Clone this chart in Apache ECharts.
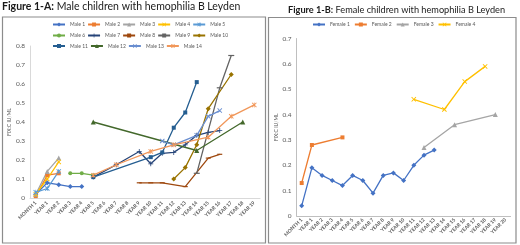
<!DOCTYPE html>
<html>
<head>
<meta charset="utf-8">
<script src="https://cdn.jsdelivr.net/npm/echarts@6/dist/echarts.min.js"></script>
<style>
  html, body { margin: 0; padding: 0; background: #fff; }
  #chart { width: 520px; height: 245px; }
</style>
</head>
<body>
<div id="chart"></div>
<script>
// categories
const maleCats = ['MONTH 1', 'YEAR 1', 'YEAR 2', 'YEAR 3', 'YEAR 4', 'YEAR 5', 'YEAR 6', 'YEAR 7', 'YEAR 8', 'YEAR 9',
  'YEAR 10', 'YEAR 11', 'YEAR 12', 'YEAR 13', 'YEAR 14', 'YEAR 15', 'YEAR 16', 'YEAR 17', 'YEAR 18', 'YEAR 19'];
const femaleCats = ['MONTH 1', 'YEAR 1', 'YEAR 2', 'YEAR 3', 'YEAR 4', 'YEAR 5', 'YEAR 6', 'YEAR 7', 'YEAR 8', 'YEAR 9',
  'YEAR 10', 'YEAR 11', 'YEAR 12', 'YEAR 13', 'YEAR 14', 'YEAR 15', 'YEAR 16', 'YEAR 17', 'YEAR 18', 'YEAR 19', 'YEAR 20'];

// FIX:C values (IU/mL), null = no measurement
const male1 = [0.02, 0.08, 0.07, 0.06, 0.06];
const male2 = [0.01, 0.12, 0.13];
const male3 = [0.02, 0.14, 0.21];
const male4 = [0.02, 0.10, 0.19];
const male5 = [0.03, 0.05, 0.14];
const male6 = [null, null, null, 0.13, 0.13, 0.12];
const male7 = [null, null, null, null, null, 0.11, null, 0.175, null, 0.245, 0.18, 0.235, 0.24, 0.28, 0.33, 0.345, 0.355];
const male8 = [null, null, null, null, null, null, null, null, null, 0.08, 0.08, 0.08, null, 0.06, null, 0.21, 0.23];
const male9 = [null, null, null, null, null, null, null, null, null, null, null, null, null, null, 0.13, null, 0.58, 0.75];
const male10 = [null, null, null, null, null, null, null, null, null, null, null, null, 0.10, 0.16, 0.28, 0.47, null, 0.65];
const male11 = [null, null, null, null, null, 0.11, null, null, null, null, 0.215, 0.24, 0.37, 0.45, 0.61];
const male12 = [null, null, null, null, null, 0.40, null, null, null, null, null, null, null, null, 0.25, null, null, null, 0.40];
const male13 = [null, null, null, null, null, null, null, null, null, null, null, 0.30, 0.28, null, 0.33, 0.43, 0.46];
const male14 = [null, null, null, null, null, 0.12, null, 0.175, null, null, 0.245, null, 0.28, null, null, 0.32, null, 0.43, null, 0.49];

const female1 = [0.04, 0.19, 0.16, 0.14, 0.12, 0.16, 0.14, 0.09, 0.16, 0.17, 0.14, 0.20, 0.24, 0.26];
const female2 = [0.13, 0.28, null, null, 0.31];
const female3 = [null, null, null, null, null, null, null, null, null, null, null, null, 0.27, null, null, 0.36, null, null, null, 0.40];
const female4 = [null, null, null, null, null, null, null, null, null, null, null, 0.46, null, null, 0.42, null, 0.53, null, 0.59];

// excel-ish marker shapes
const X = 'path://M0,1.3L1.3,0L5,3.7L8.7,0L10,1.3L6.3,5L10,8.7L8.7,10L5,6.3L1.3,10L0,8.7L3.7,5Z';
const PLUS = 'path://M4.2,0H5.8V4.2H10V5.8H5.8V10H4.2V5.8H0V4.2H4.2Z';
const STAR = X.replace('Z', 'ZM4.35,0H5.65V10H4.35Z');
const FONT = 'Lato';

function mk(name, data, color, symbol, size, idx) {
  return {
    name, type: 'line', data,
    xAxisIndex: idx, yAxisIndex: idx,
    connectNulls: true,
    symbol, symbolSize: size,
    showSymbol: true,
    lineStyle: { color, width: 1.3 },
    itemStyle: { color },
    emphasis: { disabled: true },
  };
}

const maleSeries = [
  mk('Male 1', male1, '#4472C4', 'diamond', 5, 0),
  mk('Male 2', male2, '#ED7D31', 'rect', 4, 0),
  mk('Male 3', male3, '#A5A5A5', 'triangle', 5, 0),
  mk('Male 4', male4, '#FFC000', X, 5, 0),
  mk('Male 5', male5, '#5B9BD5', STAR, 5, 0),
  mk('Male 6', male6, '#70AD47', 'circle', 4, 0),
  mk('Male 7', male7, '#264478', PLUS, 5, 0),
  mk('Male 8', male8, '#9E480E', 'rect', [5, 1.2], 0),
  mk('Male 9', male9, '#636363', 'rect', [6, 1.2], 0),
  mk('Male 10', male10, '#997300', 'diamond', 5, 0),
  mk('Male 11', male11, '#255E91', 'rect', 4, 0),
  mk('Male 12', male12, '#43682B', 'triangle', 5, 0),
  mk('Male 13', male13, '#698ED0', X, 5, 0),
  mk('Male 14', male14, '#F1975A', STAR, 5, 0),
];
const femaleSeries = [
  mk('Female 1', female1, '#4472C4', 'diamond', 5, 1),
  mk('Female 2', female2, '#ED7D31', 'rect', 4, 1),
  mk('Female 3', female3, '#A5A5A5', 'triangle', 5, 1),
  mk('Female 4', female4, '#FFC000', X, 5, 1),
];

function legendRow(names, left, top, w, gap) {
  return {
    data: names, left, top, orient: 'horizontal', padding: 0,
    itemWidth: 12, itemHeight: 5, itemGap: gap,
    textStyle: { fontSize: 5, color: '#595959', fontFamily: FONT, width: w, overflow: 'none' },
    selectedMode: false,
  };
}

function xAx(idx, cats, lineColor, margin) {
  return {
    gridIndex: idx, type: 'category', data: cats, boundaryGap: true,
    axisLine: { lineStyle: { color: lineColor, width: 1 } },
    axisTick: { show: false },
    axisLabel: { interval: 0, rotate: 45, fontSize: 5, fontWeight: 'bold', color: '#595959', margin, fontFamily: FONT },
  };
}
function yAx(idx, max, lineColor, gap) {
  return {
    gridIndex: idx, type: 'value', min: 0, max, interval: 0.1,
    axisLine: { show: true, lineStyle: { color: lineColor, width: 1 } },
    axisTick: { show: false },
    splitLine: { show: false },
    axisLabel: { fontSize: 6.5, color: '#595959', margin: 5, fontFamily: FONT,
      formatter: (v) => (v === 0 ? '0' : v.toFixed(1)) },
    name: 'FIX:C IU/ML', nameLocation: 'middle', nameRotate: 90, nameGap: gap,
    nameTextStyle: { fontSize: 5, color: '#595959', fontFamily: FONT },
  };
}

const chart = echarts.init(document.getElementById('chart'), null, { renderer: 'canvas' });
chart.setOption({
  animation: false,
  backgroundColor: '#fff',
  title: [
    { left: 2, top: 1.5, padding: 0, text: '{b|Figure 1-A:} Male children with hemophilia B Leyden',
      textStyle: { rich: { b: { fontWeight: 'bold', fontSize: 10.5, fontFamily: FONT, color: '#1a1a1a' } },
        fontSize: 10.5, fontWeight: 'normal', fontFamily: FONT, color: '#1a1a1a' } },
    { left: 288, top: 6, padding: 0, text: '{b|Figure 1-B:} Female children with hemophilia B Leyden',
      textStyle: { rich: { b: { fontWeight: 'bold', fontSize: 9.2, fontFamily: FONT, color: '#1a1a1a' } },
        fontSize: 9.2, fontWeight: 'normal', fontFamily: FONT, color: '#1a1a1a' } },
  ],
  legend: [
    legendRow(['Male 1', 'Male 2', 'Male 3', 'Male 4', 'Male 5'], 52, 22, 13, 2),
    legendRow(['Male 6', 'Male 7', 'Male 8', 'Male 9', 'Male 10'], 52, 33, 13, 2),
    legendRow(['Male 11', 'Male 12', 'Male 13', 'Male 14'], 52, 43.5, 15, 2),
    legendRow(['Female 1', 'Female 2', 'Female 3', 'Female 4'], 312, 22, 19, 4),
  ],
  grid: [
    { left: 30, top: 46, width: 230, height: 152 },
    { left: 296.6, top: 38.5, width: 214, height: 177.5 },
  ],
  xAxis: [xAx(0, maleCats, '#d9d9d9', 4), xAx(1, femaleCats, '#bfbfbf', 3)],
  yAxis: [yAx(0, 0.8, '#d9d9d9', 15), yAx(1, 0.7, '#bfbfbf', 17)],
  graphic: [
    { type: 'rect', shape: { x: 2.5, y: 17, width: 263, height: 226 }, style: { fill: 'none', stroke: '#8c8c8c', lineWidth: 1.2 } },
    { type: 'rect', shape: { x: 268.5, y: 17.5, width: 247.5, height: 225.5 }, style: { fill: 'none', stroke: '#8c8c8c', lineWidth: 1.2 } },
  ],
  series: [...maleSeries, ...femaleSeries],
});
</script>
</body>
</html>
